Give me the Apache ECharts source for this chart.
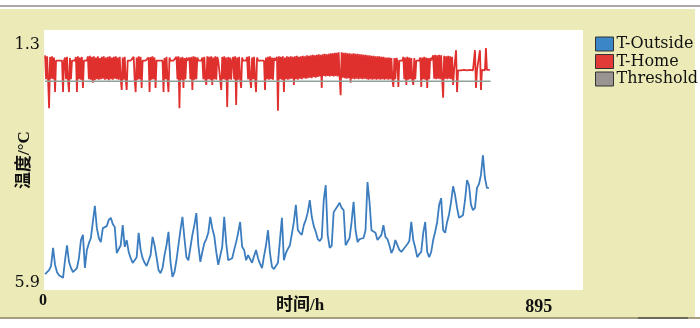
<!DOCTYPE html>
<html><head><meta charset="utf-8">
<script src="https://cdn.jsdelivr.net/npm/echarts@6/dist/echarts.min.js"></script>
<style>html,body{margin:0;padding:0;background:#fff}#c{width:700px;height:328px}</style>
</head><body><div id="c"></div>
<script>
// tick labels
const yTickValues = [1.3, 5.9];
const xTickValues = [0, 895];
// sampling of the series (hours)
const OUT_START_H = 2, OUT_STEP_H = 3.6;
const HOME_START_H = 2, HOME_STEP_H = 1.8;
// T-Outside values
const tOutside = [
5.73,5.71,5.65,5.57,5.22,5.55,5.69,5.75,5.78,5.80,
5.46,5.17,5.49,5.61,5.69,5.65,5.61,5.42,5.07,4.97,
5.61,5.26,5.13,5.03,4.72,4.41,4.84,5.03,5.11,4.84,
4.84,4.80,4.68,4.64,4.76,4.82,5.32,5.30,5.17,4.78,
5.20,5.07,5.30,5.42,5.51,5.46,5.40,4.93,5.26,5.42,
5.51,5.57,5.55,5.36,5.01,5.17,5.40,5.65,5.71,5.61,
5.36,5.17,4.91,5.49,5.78,5.69,5.46,5.17,4.88,4.62,
5.03,5.40,5.46,5.49,4.97,4.78,4.55,5.17,5.49,5.30,
5.13,5.05,4.93,4.62,4.84,4.99,5.30,5.55,5.53,5.20,
4.62,5.13,5.46,5.44,5.42,5.26,5.11,4.93,4.72,5.20,
5.26,5.46,5.36,5.38,5.51,5.38,5.26,5.42,5.53,5.61,
5.38,5.17,4.88,5.32,5.59,5.63,5.65,5.51,5.07,4.64,
5.46,5.32,5.24,5.17,4.95,4.72,4.39,4.88,4.93,4.97,
4.78,4.68,4.53,4.30,4.62,4.80,4.91,5.05,5.09,5.03,
4.30,4.01,4.97,5.22,5.18,4.53,4.53,4.41,4.35,4.45,
4.49,5.17,5.20,5.03,4.72,4.33,4.88,5.11,5.05,5.03,
5.03,4.88,3.95,4.33,4.88,4.91,4.93,5.07,5.07,4.97,
4.78,5.01,5.05,5.17,5.32,5.24,5.07,5.07,5.26,5.30,
5.32,5.20,5.15,5.09,4.72,5.07,5.22,5.40,5.34,5.30,
4.93,4.72,5.30,5.40,5.30,5.07,4.91,4.72,4.39,4.26,
4.88,4.93,4.72,4.57,4.33,4.03,4.20,4.45,4.64,4.61,
4.59,4.30,3.91,4.01,4.39,4.49,4.45,4.06,3.99,3.81,
3.43,3.87,4.06,4.06
];
// T-Home values
const tHome = [
1.50,1.96,1.52,1.97,2.52,1.53,1.95,1.52,1.96,1.54,2.21,
1.60,1.60,1.60,1.60,1.60,1.60,1.60,
2.21,1.60,
1.54,1.96,1.53,1.97,2.21,1.55,1.96,
1.60,1.60,1.60,1.60,
1.53,2.21,1.52,1.96,1.54,1.97,1.53,2.13,
1.60,1.60,1.60,1.60,
1.52,1.96,1.51,1.97,1.53,2.03,1.52,1.98,1.54,1.96,
1.52,1.97,1.55,1.96,1.53,1.95,1.52,1.97,1.54,1.96,
1.53,1.98,1.52,1.96,1.54,1.97,1.53,1.95,1.52,1.96,
1.54,1.97,1.53,1.96,2.17,1.54,1.97,1.53,1.96,2.17,
1.60,1.60,1.60,1.60,1.60,1.60,
1.53,1.96,2.21,1.54,1.97,1.52,1.96,1.53,2.13,
1.60,1.60,1.60,1.60,1.60,1.60,
1.54,2.21,1.53,1.97,1.52,1.96,1.54,2.13,
1.60,1.60,1.60,1.60,1.60,1.60,1.60,
2.21,1.55,1.96,1.53,1.97,2.21,1.54,
1.60,1.60,1.60,1.60,1.60,1.60,
1.53,1.96,1.52,2.52,1.54,1.97,1.53,2.13,1.55,1.96,1.54,
1.60,1.60,
1.54,1.96,1.53,2.17,1.52,1.97,1.53,1.96,1.54,
1.60,1.60,1.60,1.60,
1.54,1.96,1.53,1.97,2.07,1.52,1.96,1.53,1.97,1.52,2.07,1.54,1.96,1.52,1.97,1.53,
1.60,1.60,1.60,
2.17,1.53,1.96,1.52,1.97,1.54,2.50,1.53,1.96,1.54,1.97,
1.60,
1.53,1.96,1.52,2.46,1.54,1.97,1.53,1.96,2.13,1.54,
1.60,1.60,1.60,1.60,
1.53,1.96,1.52,1.97,2.13,1.54,1.96,1.53,1.97,2.21,1.54,
1.60,1.60,1.60,1.60,1.60,1.60,1.60,
2.17,1.54,1.96,1.53,1.97,1.52,1.96,1.54,1.97,1.55,
1.60,1.60,
1.53,2.57,1.52,1.96,1.53,1.97,1.52,2.21,1.54,1.96,
1.52,1.97,1.53,1.96,1.52,1.95,1.53,2.07,1.52,1.96,
1.51,1.97,1.53,1.95,1.52,1.96,1.51,1.94,1.52,1.95,
1.50,1.94,1.51,1.93,1.50,1.94,1.49,1.92,1.50,1.93,
1.49,1.92,1.48,1.91,1.49,2.13,1.48,1.90,1.47,1.91,
1.48,1.90,1.47,1.91,1.46,1.90,1.46,1.91,1.45,1.90,
1.45,1.91,1.44,1.92,2.27,1.44,1.93,1.45,1.94,1.45,
1.95,1.46,1.94,1.46,2.03,1.47,1.95,1.46,1.96,1.47,
1.95,1.47,1.96,1.48,1.95,1.48,1.96,1.49,1.95,1.49,
1.96,1.50,1.97,1.50,1.96,1.51,1.97,1.51,1.96,1.52,
1.97,1.52,1.96,1.52,1.97,1.53,1.96,1.53,1.97,1.54,
1.96,1.54,1.97,1.54,1.96,1.55,1.97,2.11,1.55,1.96,
1.55,
1.60,2.11,1.60,1.60,1.60,1.60,
1.53,1.96,1.54,2.07,1.53,1.97,1.54,1.96,1.55,1.97,2.07,1.55,1.96,
1.60,1.60,1.60,1.60,
1.54,2.11,1.54,1.96,1.53,1.97,1.54,2.13,1.55,1.96,1.55,
1.60,1.60,
1.50,1.95,1.49,1.96,1.50,1.95,1.49,1.96,1.50,1.95,2.32,1.51,1.95,1.52,1.96,1.51,1.95,1.52,1.96,1.53,2.07,
1.79,1.79,1.40,2.21,1.79,1.79,1.79,1.79,1.79,1.78,1.78,1.78,1.79,1.79,1.79,1.79,1.78,1.78,1.78,
1.79,1.79,1.40,2.13,1.79,1.78,1.78,1.40,2.17,1.78,1.78,1.79,1.79,1.36,1.78,1.78,1.78,1.78
];
const thresholdHours = [2, 808];
const thresholdValues = [2.0, 2.0];

const toPairs = (arr, start, step) => arr.map((v, i) => [start + i * step, v]);

const chart = echarts.init(document.getElementById('c'));
chart.setOption({
  animation: false,
  graphic: [
    {type: 'rect', z: -10, shape: {x: 0, y: 9, width: 695, height: 308}, style: {fill: '#ecebb8'}},
    {type: 'rect', z: -9, shape: {x: 0, y: 5, width: 700, height: 2}, style: {fill: '#aca6a6'}},
    {type: 'rect', z: -9, shape: {x: 0, y: 317, width: 700, height: 2}, style: {fill: '#a69e7e'}},
    {type: 'rect', z: -8, shape: {x: 638, y: 317, width: 50, height: 2}, style: {fill: '#6e6a58'}}
  ],
  grid: {left: 44, top: 30, width: 539, height: 260, show: true, backgroundColor: '#ffffff', borderWidth: 0,
         containLabel: false, outerBoundsMode: 'none'},
  legend: {
    orient: 'vertical', left: 590, top: 31, icon: 'rect', itemWidth: 18, itemHeight: 14, itemGap: 1.5,
    itemStyle: {borderColor: '#333', borderWidth: 1},
    textStyle: {fontFamily: 'DejaVu Serif', fontSize: 16, color: '#111', lineHeight: 14, padding: [0, 0, 0, -2]},
    data: [
      {name: 'T-Outside', itemStyle: {color: '#3a86c6'}},
      {name: 'T-Home', itemStyle: {color: '#e23a36'}},
      {name: 'Threshold', itemStyle: {color: '#9b9391'}}
    ]
  },
  xAxis: {
    type: 'value', min: 0, max: 975,
    axisLine: {show: false}, axisTick: {show: false}, splitLine: {show: false},
    axisLabel: {
      customValues: xTickValues, margin: 3,
      formatter: v => v === 0 ? '{a|' + v + '}' : '{b|' + v + '}',
      rich: {
        a: {fontFamily: 'Liberation Serif', fontWeight: 'bold', fontSize: 16, color: '#111', padding: [0, 2, 0, 0]},
        b: {fontFamily: 'Liberation Serif', fontWeight: 'bold', fontSize: 18, color: '#111', padding: [5, 0, 0, 0]}
      }
    },
    name: '时间/h', nameLocation: 'middle', nameGap: 7, nameMoveOverlap: false,
    nameTextStyle: {fontFamily: 'Liberation Serif, Noto Sans CJK SC', fontWeight: 'bold', fontSize: 17, color: '#111', padding: [0, 27, 0, 0]}
  },
  yAxis: {
    type: 'value', inverse: true, min: 1.01, max: 6.035,
    axisLine: {show: false}, axisTick: {show: false}, splitLine: {show: false},
    axisLabel: {customValues: yTickValues, margin: 4, padding: [4, 0, 0, 0], fontFamily: 'DejaVu Serif', fontSize: 16, color: '#111', formatter: v => v.toFixed(1)},
    name: '温度/°C', nameLocation: 'middle', nameGap: 11, nameMoveOverlap: false,
    nameTextStyle: {fontFamily: 'Liberation Serif, Noto Sans CJK SC', fontWeight: 'bold', fontSize: 17, color: '#111'}
  },
  series: [
    {name: 'T-Outside', type: 'line', data: toPairs(tOutside, OUT_START_H, OUT_STEP_H), showSymbol: false, color: '#3a86c6',
     lineStyle: {color: '#3b7dbf', width: 1.8}, z: 2},
    {name: 'T-Home', type: 'line', data: toPairs(tHome, HOME_START_H, HOME_STEP_H), showSymbol: false, color: '#e23a36',
     lineStyle: {color: '#e0302e', width: 1.8}, z: 3},
    {name: 'Threshold', type: 'line', data: thresholdHours.map((h, i) => [h, thresholdValues[i]]), showSymbol: false, color: '#9b9391',
     lineStyle: {color: '#8fa29a', width: 1.5}, z: 4}
  ]
});
</script></body></html>
